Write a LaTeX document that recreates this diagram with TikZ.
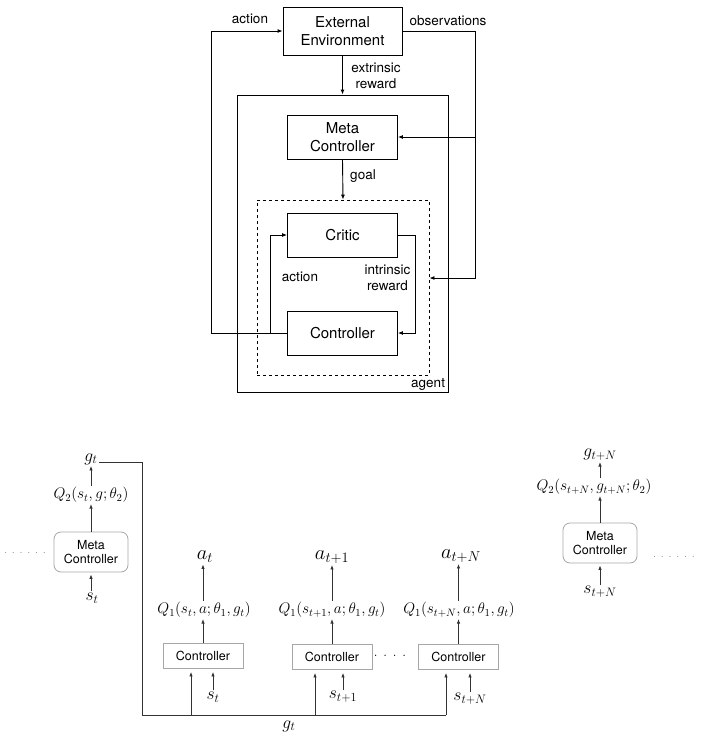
\RequirePackage{fix-cm}
\documentclass[tikz,border=0pt]{standalone}
\usepackage{amsmath}
\usepackage{fontspec}
\setsansfont{TeX Gyre Heros}
\usetikzlibrary{arrows.meta}
\usetikzlibrary{positioning}

\begin{document}
\begin{tikzpicture}[x=1pt, y=-1pt, line width=0.9pt,
    arr/.style={-{Latex[length=5pt,width=4pt]}},
    thinarr/.style={-{Latex[length=4.5pt,width=3.5pt]}, line width=0.8pt, draw=black!80},
    block/.style={draw, align=center, minimum width=110, minimum height=44, inner sep=0pt, font=\sffamily\fontsize{15}{18}\selectfont},
    lbl/.style={align=center, inner sep=1pt, font=\sffamily\fontsize{13.5}{15.5}\selectfont},
    ctrlbox/.style={draw=gray!70, line width=0.8pt, minimum width=80, minimum height=25, inner sep=0pt, font=\sffamily\fontsize{12.5}{14}\selectfont},
    metabox/.style={draw=gray!70, line width=0.8pt, rounded corners=7pt, align=center, minimum width=74, minimum height=40, inner sep=0pt, font=\sffamily\fontsize{12.5}{14}\selectfont},
    qlbl/.style={inner sep=1pt, font=\fontsize{15.3}{18}\selectfont},
    slbl/.style={inner sep=1pt, font=\fontsize{17.5}{19}\selectfont},
    albl/.style={inner sep=1pt, font=\fontsize{20.5}{22}\selectfont},
    dots/.style={inner sep=0pt, font=\fontsize{11}{13}\selectfont}]
    \useasboundingbox (0,0) rectangle (704,737);

    % agent loop
    \node (env) [block, minimum width=119, minimum height=48] at (342.5,31) {External\\Environment};
    \node (agent) [draw, minimum width=211, minimum height=297] at (342.5,243.5) {};
    \node (meta) [block] at (342.5,137) {Meta\\Controller};
    \node (inner) [draw, dashed, minimum width=172, minimum height=175] at (343,287.5) {};
    \node (critic) [block] at (342.5,235) {Critic};
    \node (ctrl) [block] at (342.5,333) {Controller};

    \node (actout) [lbl] at (250,19) {action};
    \node (obs) [lbl] at (448,21) {observations};
    \node (extr) [lbl] at (376,76) {extrinsic\\reward};
    \node (goal) [lbl] at (363,176) {goal};
    \node (intr) [lbl] at (387.5,278) {intrinsic\\reward};
    \node (actin) [lbl] at (300,277) {action};
    \node (agentlbl) [lbl, anchor=south east] at ([xshift=-2pt,yshift=1pt]agent.south east) {agent};

    \coordinate (obsturn) at (475,278);
    \draw[arr] (env.south) -- (agent.north);
    \draw[arr] (meta.south) -- (inner.north);
    \draw[arr] (ctrl.west) -- ++(-75.5,0) |- (env.west);
    \draw[arr] ([xshift=-17pt]ctrl.west) |- (critic.west);
    \draw[arr] (critic.east) -- ++(17,0) |- (ctrl.east);
    \draw[arr] (env.east) -| (obsturn) -- (obsturn -| inner.east);
    \draw[arr] (obsturn |- meta.east) -- (meta.east);

    % unrolled in time
    \node (mc1) [metabox] at (91,552) {Meta\\Controller};
    \node (q2a) [qlbl] at (91,495) {$Q_2(s_t, g; \theta_2)$};
    \node (g1) [slbl] at (91,459) {$g_t$};
    \node (s1) [slbl] at (92,598) {$s_t$};
    \node (dotsl) [dots, text=gray] at (25,553) {. . . . . .};

    \node (c1) [ctrlbox] at (203,656) {Controller};
    \node (c2) [ctrlbox] at (332,657) {Controller};
    \node (c3) [ctrlbox] at (458.5,657) {Controller};
    \node (dotsm) [dots, font=\fontsize{13.5}{15}\selectfont] at (390,656) {. . . .};
    \node (q1a) [qlbl] at (204,610) {$Q_1(s_t, a; \theta_1, g_t)$};
    \node (q1b) [qlbl] at (332,610) {$Q_1(s_{t+1}, a; \theta_1, g_t)$};
    \node (q1c) [qlbl] at (459,610) {$Q_1(s_{t+N}, a; \theta_1, g_t)$};
    \node (a1) [albl] at (205,557) {$a_t$};
    \node (a2) [albl] at (332,557) {$a_{t+1}$};
    \node (a3) [albl] at (461,556) {$a_{t+N}$};
    \node (s2) [slbl] at (213,697) {$s_t$};
    \node (s3) [slbl] at (343,697) {$s_{t+1}$};
    \node (s4) [slbl] at (470,699) {$s_{t+N}$};
    \node (glbl) [slbl] at (289,726) {$g_t$};

    \node (mc2) [metabox] at (600,543) {Meta\\Controller};
    \node (q2b) [qlbl] at (594,487) {$Q_2(s_{t+N}, g_{t+N}; \theta_2)$};
    \node (g2) [slbl] at (600,455) {$g_{t+N}$};
    \node (s5) [slbl] at (600,592) {$s_{t+N}$};
    \node (dotsr) [dots, text=gray] at (674,557) {. . . . . .};

    \draw[thinarr] (mc1.north) -- (q2a.south);
    \draw[thinarr] (q2a.north) -- (g1.south);
    \draw[thinarr, shorten >=2pt] (s1.north -| mc1.south) -- (mc1.south);
    \draw[thinarr] (mc2.north) -- (mc2.north |- q2b.south);
    \draw[thinarr] (mc2.north |- q2b.north) -- (g2.south);
    \draw[thinarr, shorten >=2pt] (s5.north) -- (mc2.south);

    \coordinate (gturn) at (142,715);
    \coordinate (gin1) at (191,715);
    \coordinate (gin2) at (315,715);
    \coordinate (gin3) at (446,715);
    \draw[line width=0.8pt, draw=black!80] ([yshift=-3pt]g1.east) -| (gturn) -- (gin3);
    \draw[thinarr, shorten >=3pt] (gin1) -- (gin1 |- c1.south);
    \draw[thinarr, shorten >=3pt] (gin2) -- (gin2 |- c2.south);
    \draw[thinarr, shorten >=3pt] (gin3) -- (gin3 |- c3.south);
    \draw[thinarr, shorten >=3pt] (s2.north) -- (s2.north |- c1.south);
    \draw[thinarr, shorten >=3pt] (s3.north) -- (s3.north |- c2.south);
    \draw[thinarr, shorten >=3pt] (s4.north) -- (s4.north |- c3.south);

    \draw[thinarr] (c1.north) -- (c1.north |- q1a.south);
    \draw[thinarr] (c2.north) -- (c2.north |- q1b.south);
    \draw[thinarr] (c3.north) -- (c3.north |- q1c.south);
    \draw[thinarr] (c1.north |- q1a.north) -- (c1.north |- a1.south);
    \draw[thinarr] (c2.north |- q1b.north) -- (c2.north |- a2.south);
    \draw[thinarr] (c3.north |- q1c.north) -- (c3.north |- a3.south);
\end{tikzpicture}
\end{document}
